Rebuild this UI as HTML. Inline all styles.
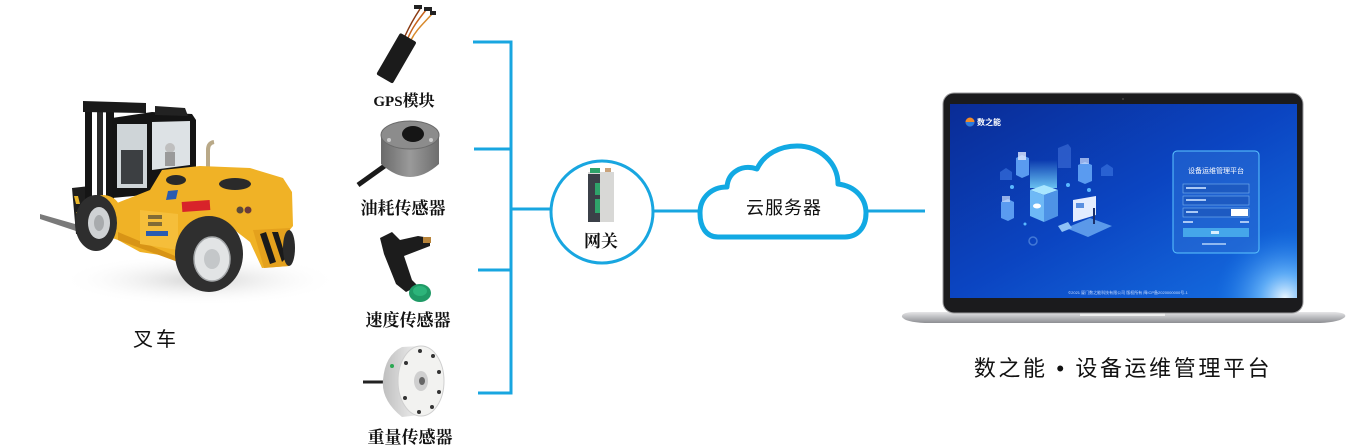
<!DOCTYPE html>
<html><head><meta charset="utf-8">
<style>
html,body{margin:0;padding:0;background:#fff;}
body{width:1363px;height:445px;overflow:hidden;position:relative;}
svg{position:absolute;left:0;top:0;}
</style></head>
<body>
<svg width="1363" height="445" viewBox="0 0 1363 445" xmlns="http://www.w3.org/2000/svg">
<defs>
  <linearGradient id="scr" x1="0" y1="0" x2="1" y2="1">
    <stop offset="0" stop-color="#0a2c96"/>
    <stop offset="0.5" stop-color="#0b45c2"/>
    <stop offset="1" stop-color="#1672e4"/>
  </linearGradient>
  <radialGradient id="glow" cx="1285" cy="298" r="70" gradientUnits="userSpaceOnUse">
    <stop offset="0" stop-color="#eaf6ff" stop-opacity="1"/>
    <stop offset="0.35" stop-color="#7cc6ff" stop-opacity="0.7"/>
    <stop offset="1" stop-color="#1a7be8" stop-opacity="0"/>
  </radialGradient>
  <linearGradient id="base" x1="0" y1="0" x2="0" y2="1">
    <stop offset="0" stop-color="#e6e6e8"/>
    <stop offset="0.5" stop-color="#b9babd"/>
    <stop offset="1" stop-color="#8d8e92"/>
  </linearGradient>
  <linearGradient id="beam" x1="0" y1="1" x2="0" y2="0">
    <stop offset="0" stop-color="#7fe0ff" stop-opacity="0.8"/>
    <stop offset="1" stop-color="#7fe0ff" stop-opacity="0"/>
  </linearGradient>
  <radialGradient id="shadow" cx="0.5" cy="0.5" r="0.5">
    <stop offset="0" stop-color="#d4d4d4"/>
    <stop offset="1" stop-color="#ffffff" stop-opacity="0"/>
  </radialGradient>
  <linearGradient id="disk" x1="0" y1="0" x2="1" y2="0">
    <stop offset="0" stop-color="#bfbfbf"/>
    <stop offset="1" stop-color="#f0f0f0"/>
  </linearGradient>
  <linearGradient id="oil" x1="0" y1="0" x2="1" y2="0">
    <stop offset="0" stop-color="#6a6a6a"/>
    <stop offset="0.5" stop-color="#9a9a9a"/>
    <stop offset="1" stop-color="#6e6e6e"/>
  </linearGradient>
</defs>

<!-- ================= FORKLIFT ================= -->
<ellipse cx="200" cy="280" rx="140" ry="26" fill="url(#shadow)"/>
<!-- fork -->
<polygon points="40,214 82,226 82,233 40,219" fill="#7a7a7a"/>
<!-- carriage -->
<polygon points="72,188 90,186 92,232 76,234" fill="#1e1e1e"/>
<polygon points="74,196 78,196 80,204 76,204" fill="#e7b52a"/>
<polygon points="76,212 80,212 82,220 78,220" fill="#e7b52a"/>
<!-- mast -->
<rect x="85" y="104" width="7" height="98" fill="#151515"/>
<rect x="97" y="106" width="6" height="92" fill="#2a2a2a"/>
<rect x="106" y="104" width="8" height="96" fill="#151515"/>
<polygon points="83,101 146,103 146,113 83,112" fill="#1a1a1a"/>
<!-- cab -->
<polygon points="112,118 152,112 192,114 196,120 196,190 112,198" fill="#141414"/>
<polygon points="155,106 185,108 188,116 155,115" fill="#222"/>
<rect x="117" y="124" width="30" height="64" fill="#cfd5d8"/>
<rect x="121" y="150" width="22" height="34" fill="#3c3f42"/>
<polygon points="152,122 190,121 190,165 152,170" fill="#dde2e5"/>
<circle cx="170" cy="148" r="5" fill="#bfbfbf"/>
<rect x="165" y="152" width="10" height="14" fill="#9a9a9a"/>
<!-- exhaust -->
<path d="M208,170 L208,150 Q208,143 214,142" stroke="#b9a988" stroke-width="4" fill="none"/>
<!-- body -->
<polygon points="112,205 150,190 162,170 200,166 250,168 283,178 292,192 293,226 288,232 289,266 262,268 250,242 232,228 210,216 192,222 180,258 140,252 118,240 95,232 88,208" fill="#f0b226"/>
<path d="M78,215 Q84,196 104,195 Q118,196 122,212 L118,214 Q112,202 100,201 Q86,203 82,217 Z" fill="#f0b226"/>
<polygon points="253,230 290,228 289,266 264,268" fill="#e4a11d"/>
<polygon points="260,234 266,232 276,262 270,264" fill="#1a1a1a"/>
<polygon points="272,232 278,232 286,258 282,262" fill="#1a1a1a"/>
<polygon points="118,232 180,258 178,262 118,240" fill="#d89416"/>
<polygon points="140,210 178,214 178,250 140,244" fill="#f5be3a"/>
<!-- hood vents -->
<ellipse cx="176" cy="180" rx="10" ry="5" fill="#2a2a2a"/>
<ellipse cx="235" cy="184" rx="16" ry="6" fill="#2a2a2a"/>
<polygon points="168,191 178,190 176,199 166,200" fill="#2a5bb0"/>
<rect x="182" y="201" width="28" height="10" fill="#d8232a" transform="rotate(-4 196 206)"/>
<circle cx="240" cy="210" r="3.5" fill="#5b4a3a"/>
<circle cx="248" cy="210" r="3.5" fill="#6b3a3a"/>
<rect x="146" y="231" width="22" height="5" fill="#2a5bb0"/>
<rect x="148" y="215" width="14" height="4" fill="#333" opacity="0.6"/>
<rect x="148" y="222" width="14" height="4" fill="#333" opacity="0.6"/>
<!-- front wheel -->
<ellipse cx="96" cy="223" rx="21" ry="28" fill="#2e2e2e"/>
<ellipse cx="99" cy="223" rx="11" ry="16" fill="#cfd2d4"/>
<ellipse cx="99" cy="223" rx="5" ry="8" fill="#a8abad"/>
<!-- rear wheel -->
<ellipse cx="209" cy="254" rx="34" ry="38" fill="#2f2f2f"/>
<ellipse cx="212" cy="259" rx="18" ry="22" fill="#e2e4e5" stroke="#a5a8aa" stroke-width="1.5"/>
<ellipse cx="212" cy="259" rx="8" ry="10" fill="#c4c7c9"/>
<!-- rear right tire -->
<ellipse cx="289" cy="248" rx="6" ry="18" fill="#2a2a2a"/>

<text x="156" y="346" text-anchor="middle" font-family="'Liberation Sans','Noto Sans CJK SC',sans-serif" font-size="20" letter-spacing="3" fill="#111">叉车</text>

<!-- ================= SENSORS ================= -->
<!-- GPS -->
<path d="M408,38 C412,28 418,20 426,10" stroke="#c8641c" stroke-width="1.5" fill="none"/>
<path d="M405,36 C410,25 414,18 420,9" stroke="#8a3a12" stroke-width="1.5" fill="none"/>
<path d="M411,40 C416,30 423,24 432,14" stroke="#d88a2c" stroke-width="1.5" fill="none"/>
<rect x="414" y="5" width="8" height="4" fill="#222"/>
<rect x="424" y="7" width="8" height="4" fill="#222"/>
<rect x="430" y="11" width="6" height="4" fill="#222"/>
<rect x="372" y="49" width="48" height="19" rx="2" fill="#1b1b1b" transform="rotate(-60 396 58)"/>
<text x="404" y="106" text-anchor="middle" font-family="'Liberation Serif','Noto Serif CJK SC',serif" font-weight="700" font-size="16" fill="#111"><tspan font-size="15">GPS</tspan>模块</text>

<!-- Oil sensor -->
<path d="M386,165 L358,185" stroke="#1a1a1a" stroke-width="5" fill="none"/>
<path d="M381,135 L381,164 Q410,190 439,164 L439,135 Z" fill="url(#oil)"/>
<ellipse cx="410" cy="135" rx="29" ry="14" fill="#8c8c8c" stroke="#6a6a6a"/>
<ellipse cx="413" cy="134" rx="11" ry="8" fill="#151515"/>
<circle cx="389" cy="140" r="2" fill="#ccc"/>
<circle cx="431" cy="140" r="2" fill="#ccc"/>
<text x="403" y="214" text-anchor="middle" font-family="'Liberation Serif','Noto Serif CJK SC',serif" font-weight="700" font-size="17" fill="#111">油耗传感器</text>

<!-- Speed sensor -->
<polygon points="380,238 392,232 400,240 418,236 430,238 430,246 404,256 412,280 418,286 406,292 396,284 384,254" fill="#1c1c1c"/>
<rect x="423" y="237" width="8" height="6" fill="#b8843a"/>
<ellipse cx="420" cy="293" rx="11" ry="9" fill="#1f9a66"/>
<ellipse cx="420" cy="291" rx="7" ry="5" fill="#2cb47a"/>
<text x="408" y="326" text-anchor="middle" font-family="'Liberation Serif','Noto Serif CJK SC',serif" font-weight="700" font-size="17" fill="#111">速度传感器</text>

<!-- Weight sensor -->
<path d="M363,382 L386,382" stroke="#222" stroke-width="3"/>
<path d="M402,347 L420,346 L420,415 L402,417 Q381,400 383,380 Q385,355 402,347 Z" fill="url(#disk)"/>
<ellipse cx="421" cy="381" rx="23" ry="35" fill="#f2f2f0" stroke="#cfcfcf"/>
<ellipse cx="421" cy="381" rx="7" ry="10" fill="#cfcfcf"/>
<ellipse cx="422" cy="381" rx="3" ry="4" fill="#666"/>
<circle cx="420" cy="351" r="2" fill="#333"/>
<circle cx="433" cy="356" r="2" fill="#333"/>
<circle cx="439" cy="372" r="2" fill="#333"/>
<circle cx="439" cy="392" r="2" fill="#333"/>
<circle cx="432" cy="407" r="2" fill="#333"/>
<circle cx="419" cy="412" r="2" fill="#333"/>
<circle cx="405" cy="398" r="2" fill="#333"/>
<circle cx="406" cy="363" r="2" fill="#333"/>
<circle cx="392" cy="366" r="2" fill="#2aa852"/>
<text x="410" y="443" text-anchor="middle" font-family="'Liberation Serif','Noto Serif CJK SC',serif" font-weight="700" font-size="17" fill="#111">重量传感器</text>

<!-- ================= CONNECTORS ================= -->
<g stroke="#18a6e0" stroke-width="3" fill="none">
  <path d="M473,42 L511,42 L511,393 L478,393"/>
  <path d="M474,149 L511,149"/>
  <path d="M478,270 L511,270"/>
  <path d="M511,209 L551,209"/>
  <path d="M653,211 L701,211"/>
  <path d="M866,211 L925,211"/>
</g>
<circle cx="602" cy="212" r="51" fill="#fff" stroke="#18a6e0" stroke-width="3"/>

<!-- Gateway device -->
<rect x="588" y="172" width="26" height="50" fill="#d8d8d6"/>
<rect x="588" y="174" width="12" height="48" fill="#3b4048"/>
<rect x="595" y="183" width="5" height="12" fill="#2fa36a"/>
<rect x="595" y="199" width="5" height="14" fill="#2fa36a"/>
<rect x="590" y="168" width="10" height="5" fill="#2fa36a"/>
<rect x="605" y="168" width="6" height="4" fill="#c9a27a"/>
<text x="601" y="247" text-anchor="middle" font-family="'Liberation Serif','Noto Serif CJK SC',serif" font-weight="700" font-size="17" fill="#111">网关</text>

<!-- Cloud -->
<path d="M718,237 C706,237 700,227 700,213 C700,198 711,187 727,187 C728,172 742,164 757,169 C764,154 780,146 797,146 C820,146 838,163 838,184 C855,186 866,198 866,213 C866,228 857,237 845,237 Z" fill="#fff" stroke="#12a9e3" stroke-width="5" stroke-linejoin="round"/>
<text x="784" y="214" text-anchor="middle" font-family="'Liberation Sans','Noto Sans CJK SC',sans-serif" font-size="18" letter-spacing="1" fill="#111">云服务器</text>

<!-- ================= LAPTOP ================= -->
<path d="M912,312 L1335,312 Q1347,313 1345,317 Q1340,322 1320,323 L925,323 Q905,322 902,317 Q901,313 912,312 Z" fill="url(#base)"/>
<rect x="1080" y="312" width="85" height="4" fill="#eeeeee"/>
<rect x="943" y="93" width="360" height="220" rx="11" fill="#1b1b1d" stroke="#9a9a9c" stroke-width="1"/>
<rect x="950" y="104" width="347" height="194" fill="url(#scr)"/>
<rect x="950" y="104" width="347" height="194" fill="url(#glow)"/>
<circle cx="1123" cy="99" r="1" fill="#444"/>
<!-- screen: logo -->
<circle cx="970" cy="122" r="4.5" fill="#f08a2a"/>
<path d="M965.5,122 A4.5,4.5 0 0 0 974.5,122 Z" fill="#2a7ae0"/>
<text x="977" y="125" font-family="'Liberation Sans','Noto Sans CJK SC',sans-serif" font-size="8" font-weight="700" fill="#fff">数之能</text>
<!-- illustration -->
<g>
  <polygon points="1030,160 1057,160 1057,188 1030,188" fill="url(#beam)"/>
  <polygon points="1058,148 1068,144 1071,148 1071,168 1058,168" fill="#3f6fd8" opacity="0.6"/>
  <polygon points="1000,172 1006,168 1012,172 1012,180 1000,180" fill="#3d78e2" opacity="0.6"/>
  <polygon points="1101,168 1107,164 1113,168 1113,176 1101,176" fill="#3d78e2" opacity="0.6"/>
  <polygon points="1030,190 1044,185 1058,190 1044,195" fill="#a8e6ff"/>
  <polygon points="1030,190 1044,195 1044,222 1030,216" fill="#6eb9f6"/>
  <polygon points="1044,195 1058,190 1058,216 1044,222" fill="#4e93e6"/>
  <ellipse cx="1037" cy="206" rx="4" ry="2.5" fill="#fff"/>
  <polygon points="1016,158 1022,155 1029,158 1029,175 1022,178 1016,175" fill="#5a9bf0"/>
  <rect x="1018" y="152" width="8" height="8" fill="#dfe8ff" opacity="0.8"/>
  <polygon points="1078,165 1085,162 1092,165 1092,181 1085,184 1078,181" fill="#5a9bf0"/>
  <rect x="1080" y="158" width="9" height="6" fill="#cfe0ff" opacity="0.7"/>
  <polygon points="1001,202 1008,199 1014,202 1014,218 1008,221 1001,218" fill="#5a9bf0"/>
  <rect x="1002" y="196" width="8" height="6" fill="#cfe0ff" opacity="0.7"/>
  <polygon points="1073,200 1096,196 1096,215 1073,222" fill="#e3ecff"/>
  <rect x="1076" y="203" width="8" height="5" fill="#5a8fe0"/>
  <polygon points="1066,228 1090,218 1112,226 1088,237" fill="#6aa8f0" opacity="0.85"/>
  <rect x="1093" y="208" width="2" height="16" fill="#1b2f6a"/>
  <polygon points="1058,226 1068,222 1072,228 1062,232" fill="#8fc2f5"/>
  <circle cx="1033" cy="241" r="4" fill="none" stroke="#5a8fe0" stroke-width="1.5" opacity="0.7"/>
  <circle cx="1012" cy="187" r="2" fill="#5ab8ff"/>
  <circle cx="1068" cy="185" r="2" fill="#5ab8ff"/>
  <circle cx="1025" cy="224" r="1.5" fill="#5ab8ff"/>
  <circle cx="1089" cy="190" r="2" fill="#5ab8ff"/>
</g>
<!-- login panel -->
<rect x="1173" y="151" width="86" height="102" rx="4" fill="#2b6fd6" fill-opacity="0.55" stroke="#5cc6ff" stroke-width="1"/>
<text x="1216" y="173" text-anchor="middle" font-family="'Liberation Sans','Noto Sans CJK SC',sans-serif" font-size="7" fill="#fff">设备运维管理平台</text>
<rect x="1183" y="184" width="66" height="9" fill="#1d55b8" fill-opacity="0.6" stroke="#7bb5f0" stroke-width="0.6"/>
<rect x="1183" y="196" width="66" height="9" fill="#1d55b8" fill-opacity="0.6" stroke="#7bb5f0" stroke-width="0.6"/>
<rect x="1183" y="208" width="66" height="9" fill="#1d55b8" fill-opacity="0.6" stroke="#7bb5f0" stroke-width="0.6"/>
<rect x="1231" y="209" width="17" height="7" fill="#fff"/>
<rect x="1186" y="187" width="20" height="2" fill="#a9c8f5"/>
<rect x="1186" y="199" width="20" height="2" fill="#a9c8f5"/>
<rect x="1186" y="211" width="12" height="2" fill="#a9c8f5"/>
<rect x="1183" y="221" width="10" height="2" fill="#a9c8f5"/>
<rect x="1240" y="221" width="9" height="2" fill="#a9c8f5"/>
<rect x="1183" y="228" width="66" height="9" fill="#45a6ea"/>
<rect x="1211" y="231" width="8" height="3" fill="#d8efff"/>
<rect x="1202" y="243" width="24" height="2" fill="#8fb8f0"/>
<!-- footer -->
<text x="1128" y="294" text-anchor="middle" font-family="'Liberation Sans','Noto Sans CJK SC',sans-serif" font-size="4" fill="#c9dcff">©2021 厦门数之能科技有限公司 版权所有 闽ICP备2020000000号-1</text>

<text x="1123" y="376" text-anchor="middle" font-family="'Liberation Sans','Noto Sans CJK SC',sans-serif" font-size="22" letter-spacing="2.6" fill="#111">数之能 • 设备运维管理平台</text>
</svg>
</body></html>
